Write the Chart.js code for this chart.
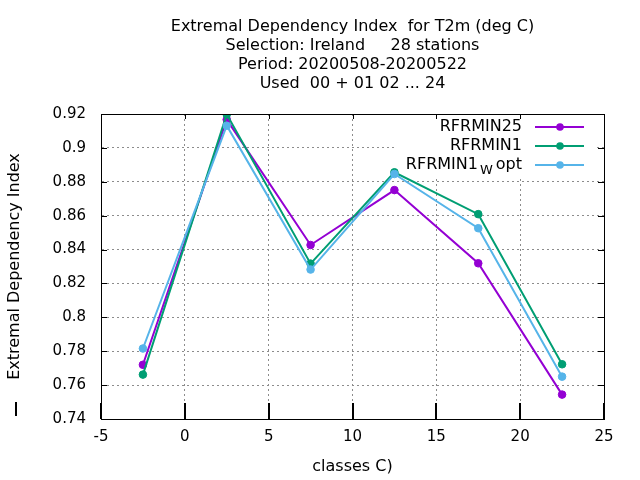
<!DOCTYPE html>
<html>
<head>
<meta charset="utf-8">
<script src="https://cdn.jsdelivr.net/npm/chart.js@4.4.1/dist/chart.umd.min.js"></script>
<style>
  html, body { margin: 0; padding: 0; background: #ffffff; }
  #wrap { width: 640px; height: 480px; }
</style>
</head>
<body>
<div id="wrap"><canvas id="edi"></canvas></div>
<script>
const classes = [-2.5, 2.5, 7.5, 12.5, 17.5, 22.5];
const rfrmin25 = [0.772, 0.9167, 0.8427, 0.8751, 0.8319, 0.7544];
const rfrmin1 = [0.7662, 0.9198, 0.8317, 0.8856, 0.8609, 0.7723];
const rfrmin1W = [0.7816, 0.9131, 0.8282, 0.8846, 0.8526, 0.765];
const seriesNames = ["RFRMIN25", "RFRMIN1", "RFRMIN1|W|opt"];
const titleLines = [
  "Extremal Dependency Index  for T2m (deg C)",
  "Selection: Ireland     28 stations",
  "Period: 20200508-20200522",
  "Used  00 + 01 02 ... 24"
];
const xTicks = [-5, 0, 5, 10, 15, 20, 25];
const yTicks = [0.74, 0.76, 0.78, 0.8, 0.82, 0.84, 0.86, 0.88, 0.9, 0.92];

const palette = ["#9400d3", "#009e73", "#56b4e9"];
const fontFamily = "'DejaVu Sans', sans-serif";

function toPoints(values) {
  return values.map((v, i) => ({ x: classes[i], y: v }));
}

// later series are drawn on top, as gnuplot does
function makeDataset(label, values, color, order) {
  return {
    label,
    order,
    data: toPoints(values),
    borderColor: color,
    backgroundColor: color,
    pointBackgroundColor: color,
    pointBorderColor: color,
    pointRadius: 3.8,
    pointBorderWidth: 1,
    borderWidth: 2,
    tension: 0,
    fill: false
  };
}

// gnuplot-like frame, tics, title and key
const gnuplotFrame = {
  id: "gnuplotFrame",
  beforeDatasetsDraw(chart) {
    // opaque key box hides the grid behind it
    const { ctx, chartArea: a } = chart;
    ctx.save();
    ctx.fillStyle = "#ffffff";
    ctx.fillRect(396, a.top + 1, a.right - 8 - 396, 62);
    ctx.restore();
  },
  afterDraw(chart) {
    const { ctx, chartArea: a, scales } = chart;
    ctx.save();

    ctx.strokeStyle = "#000000";
    ctx.lineWidth = 1;
    ctx.strokeRect(a.left + 0.5, a.top + 0.5, a.right - a.left, a.bottom - a.top);

    // bottom tics (long, heavy)
    ctx.lineWidth = 2;
    ctx.beginPath();
    xTicks.forEach(t => {
      const x = Math.round(scales.x.getPixelForValue(t));
      ctx.moveTo(x, a.bottom);
      ctx.lineTo(x, a.bottom - 16);
    });
    ctx.stroke();

    // top, left and right tics
    ctx.lineWidth = 1;
    ctx.beginPath();
    xTicks.forEach(t => {
      const x = Math.round(scales.x.getPixelForValue(t)) + 0.5;
      ctx.moveTo(x, a.top);
      ctx.lineTo(x, a.top + 5);
    });
    yTicks.forEach(t => {
      const y = Math.round(scales.y.getPixelForValue(t)) + 0.5;
      ctx.moveTo(a.left, y);
      ctx.lineTo(a.left + 6, y);
      ctx.moveTo(a.right, y);
      ctx.lineTo(a.right - 6, y);
    });
    ctx.stroke();

    // small mark at lower left
    ctx.fillStyle = "#000000";
    ctx.fillRect(15, 402, 2, 14);

    // title
    ctx.fillStyle = "#000000";
    ctx.font = `16px ${fontFamily}`;
    ctx.textAlign = "center";
    ctx.textBaseline = "middle";
    const cx = (a.left + a.right) / 2;
    titleLines.forEach((line, i) => ctx.fillText(line, cx, 27 + i * 19));

    // key
    seriesNames.forEach((name, i) => {
      const color = palette[i];
      const y = 127 + i * 19;
      const textRight = 522;
      const parts = name.split("|");
      ctx.fillStyle = "#000000";
      ctx.textAlign = "right";
      ctx.textBaseline = "middle";
      if (parts.length === 3) {
        ctx.font = `16px ${fontFamily}`;
        ctx.fillText(parts[2], textRight, y);
        let x = textRight - ctx.measureText(parts[2]).width - 3;
        ctx.font = `13px ${fontFamily}`;
        ctx.fillText(parts[1], x, y + 6);
        x -= ctx.measureText(parts[1]).width + 2;
        ctx.font = `16px ${fontFamily}`;
        ctx.fillText(parts[0], x, y);
      } else {
        ctx.font = `16px ${fontFamily}`;
        ctx.fillText(parts[0], textRight, y);
      }
      ctx.strokeStyle = color;
      ctx.lineWidth = 2;
      ctx.beginPath();
      ctx.moveTo(535, y);
      ctx.lineTo(584, y);
      ctx.stroke();
      ctx.fillStyle = color;
      ctx.beginPath();
      ctx.arc(560, y, 3.8, 0, Math.PI * 2);
      ctx.fill();
    });

    ctx.restore();
  }
};

new Chart(document.getElementById("edi").getContext("2d"), {
  type: "line",
  data: {
    datasets: [
      makeDataset(seriesNames[0], rfrmin25, palette[0], 2),
      makeDataset(seriesNames[1], rfrmin1, palette[1], 1),
      makeDataset(seriesNames[2], rfrmin1W, palette[2], 0)
    ]
  },
  plugins: [gnuplotFrame],
  options: {
    responsive: true,
    maintainAspectRatio: false,
    animation: false,
    devicePixelRatio: 1,
    layout: { padding: { top: 114, right: 36, bottom: 0, left: 0 } },
    plugins: {
      legend: { display: false },
      title: { display: false },
      tooltip: { enabled: false }
    },
    scales: {
      x: {
        type: "linear",
        min: -5,
        max: 25,
        afterFit: scale => { scale.height = 61; },
        afterBuildTicks: scale => { scale.ticks = xTicks.map(v => ({ value: v })); },
        border: { display: true, color: "#000000", width: 1, dash: [2, 3] },
        grid: { color: "#8c8c8c", lineWidth: 1, drawTicks: false },
        ticks: {
          color: "#000000",
          padding: 9,
          maxRotation: 0,
          font: { family: fontFamily, size: 15 },
          callback: v => String(v)
        },
        title: {
          display: true,
          text: "classes C)",
          color: "#000000",
          padding: { top: 0, bottom: 4 },
          font: { family: fontFamily, size: 16 }
        }
      },
      y: {
        type: "linear",
        min: 0.74,
        max: 0.92,
        afterFit: scale => { scale.width = 101; },
        afterBuildTicks: scale => { scale.ticks = yTicks.map(v => ({ value: v })); },
        border: { display: true, color: "#000000", width: 1, dash: [2, 3] },
        grid: { color: "#8c8c8c", lineWidth: 1, drawTicks: false },
        ticks: {
          color: "#000000",
          padding: 15,
          font: { family: fontFamily, size: 15 },
          callback: v => String(Math.round(v * 100) / 100)
        },
        title: {
          display: true,
          text: "Extremal Dependency Index",
          color: "#000000",
          padding: { top: 5, bottom: 0 },
          font: { family: fontFamily, size: 16 }
        }
      }
    }
  }
});
</script>
</body>
</html>
